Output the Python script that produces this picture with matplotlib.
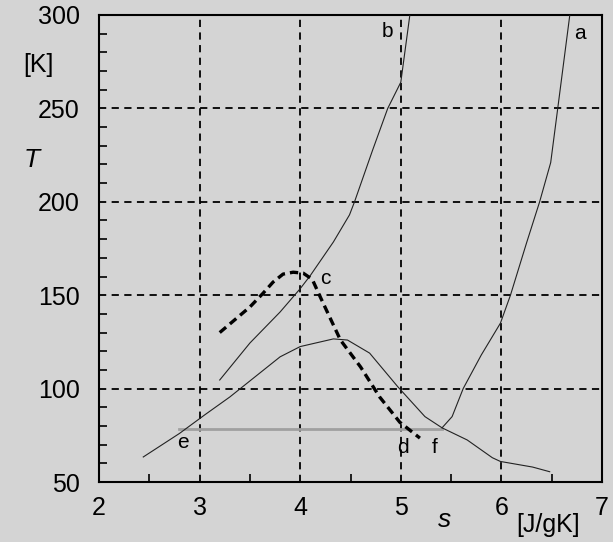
import matplotlib
matplotlib.use("Agg")
import matplotlib.pyplot as plt
import numpy as np

plt.rcParams['font.family'] = ['Liberation Sans', 'DejaVu Sans']

# Curve a (right branch)
a_s = [5.41, 5.51, 5.62, 5.80, 5.99, 6.09, 6.25, 6.38, 6.49, 6.56, 6.68]
a_T = [79, 85, 100, 118, 135, 150, 178, 200, 221, 250, 300]
# Curve b
b_s = [3.20, 3.50, 3.80, 4.00, 4.10, 4.33, 4.49, 4.54, 4.72, 4.87, 5.00, 5.09]
b_T = [104.6, 124.4, 141, 153.5, 160.5, 178.5, 193, 200, 227.7, 250, 264, 300]
# Lower solid curve (dome)
dome_s = [2.44, 2.80, 3.05, 3.30, 3.80, 4.00, 4.33, 4.47, 4.69, 4.97, 5.24, 5.41, 5.66, 5.91, 5.99, 6.31, 6.48]
dome_T = [63.4, 76, 85.9, 95.5, 117, 122.5, 126.6, 126, 119, 101, 85, 79, 72.5, 63, 61, 58, 55.5]
# Dashed thick curve
dash_s = [3.20, 3.50, 3.63, 3.73, 3.83, 3.93, 4.03, 4.12, 4.20, 4.40, 4.60, 4.79, 4.99, 5.19]
dash_T = [130, 143.7, 151, 157, 161.3, 162.3, 161.8, 158.5, 149, 126, 111.6, 95.5, 82, 73.5]
# Horizontal line e-f
ef_s = [2.80, 5.41]
ef_T = [78.4, 78.4]

labels = ['a', 'b', 'c', 'd', 'e', 'f']
label_s = [6.78, 4.87, 4.25, 5.02, 2.83, 5.34]
label_T = [290, 291, 159, 68.7, 71.4, 68.7]

xticks = [2, 3, 4, 5, 6, 7]
yticks = [50, 100, 150, 200, 250, 300]

bg = '#d4d4d4'
fig = plt.figure(figsize=(6.13, 5.42), dpi=100, facecolor=bg)
ax = fig.add_axes([99/613, 1-482/542, 503/613, 467/542])
ax.set_facecolor(bg)

ax.set_xlim(2, 7)
ax.set_ylim(50, 300)

for x in [3, 4, 5, 6]:
    ax.axvline(x, color='black', lw=1.3, ls=(0, (4, 3)), zorder=1)
for y in [100, 150, 200, 250]:
    ax.axhline(y, color='black', lw=1.3, ls=(0, (4, 3)), zorder=1)

ax.plot(ef_s, ef_T, color='#a0a0a0', lw=2, zorder=2)
ax.plot(dome_s, dome_T, color='#222222', lw=0.8, zorder=3)
ax.plot(a_s, a_T, color='#222222', lw=0.8, zorder=3)
ax.plot(b_s, b_T, color='#222222', lw=0.8, zorder=3)
ax.plot(dash_s, dash_T, color='black', lw=2.4, ls=(0, (2.5, 1.5)), zorder=4)

for lab, sx, ty in zip(labels, label_s, label_T):
    ax.text(sx, ty, lab, fontsize=15, ha='center', va='center', zorder=5)

ax.set_xticks(xticks)
ax.set_yticks(yticks)
ax.set_xticks(np.arange(2.5, 7, 1.0), minor=True)
ax.set_yticks(np.arange(60, 300, 10), minor=True)
ax.tick_params(which='both', direction='in', top=False, right=False, labelsize=18)
ax.tick_params(which='major', length=0)
ax.tick_params(which='minor', length=6, width=1.2)
ax.tick_params(axis='y', pad=14)
ax.tick_params(axis='x', pad=10)
for sp in ax.spines.values():
    sp.set_linewidth(1.5)

fig.text(38/613, 1-65/542, '[K]', fontsize=18, ha='center', va='center')
fig.text(32/613, 1-160/542, 'T', fontsize=19, style='italic', ha='center', va='center')
fig.text(445/613, 1-520/542, 's', fontsize=19, style='italic', ha='center', va='center')
fig.text(548/613, 1-525/542, '[J/gK]', fontsize=18, ha='center', va='center')

fig.savefig('out.png', dpi=100, facecolor=bg)
